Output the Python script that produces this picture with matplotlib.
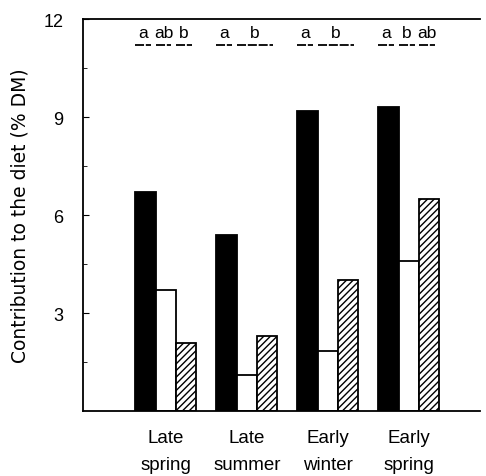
import matplotlib
matplotlib.use("Agg")
import matplotlib.pyplot as plt
import numpy as np

plt.rcParams['font.family'] = ['Liberation Sans', 'DejaVu Sans']
plt.rcParams['hatch.linewidth'] = 1.0

seasons = ["Late\nspring", "Late\nsummer", "Early\nwinter", "Early\nspring"]
black_vals = [6.7, 5.4, 9.2, 9.3]
white_vals = [3.7, 1.1, 1.85, 4.6]
hatch_vals = [2.1, 2.3, 4.0, 6.5]

# significance letters per group: (letter, first bar, last bar)
letters = [
    [("a", 0, 0), ("ab", 1, 1), ("b", 2, 2)],
    [("a", 0, 0), ("b", 1, 2)],
    [("a", 0, 0), ("b", 1, 2)],
    [("a", 0, 0), ("b", 1, 1), ("ab", 2, 2)],
]

fig = plt.figure(figsize=(4.86, 4.77), dpi=100)
ax = fig.add_axes([0.171, 0.136, 0.817, 0.822])

x = np.arange(len(seasons))
w = 0.25
lw = 1.3
ax.bar(x - w, black_vals, w, color='black', edgecolor='black', lw=lw)
ax.bar(x, white_vals, w, color='white', edgecolor='black', lw=lw)
ax.bar(x + w, hatch_vals, w, color='white', edgecolor='black', lw=lw, hatch='/////')

for i, grp in enumerate(letters):
    for lab, b0, b1 in grp:
        x0 = i + (b0 - 1) * w - 0.5 * w
        x1 = i + (b1 - 1) * w + 0.28 * w
        ax.text((x0 + x1) / 2, 11.6, lab, ha='center', va='center', fontsize=12.5)
        ax.plot([x0, x1], [11.2, 11.2], color='black', lw=1.3,
                ls=(0, (5, 1)), solid_capstyle='butt')

ax.set_xlim(-1.02, 3.88)
ax.set_ylim(0, 12)
ax.set_yticks([3, 6, 9, 12])
ax.set_yticks([1.5, 4.5, 7.5, 10.5], minor=True)
ax.tick_params(axis='y', which='major', direction='in', length=4, labelsize=13, pad=14)
ax.tick_params(axis='y', which='minor', direction='in', length=3)
ax.set_xticks(x)
ax.set_xticklabels(seasons, fontsize=13.5, linespacing=1.75)
ax.tick_params(axis='x', length=0, pad=13)
ax.spines['right'].set_visible(False)
for s in ['left', 'top', 'bottom']:
    ax.spines[s].set_linewidth(1.3)
ax.set_ylabel("Contribution to the diet (% DM)", fontsize=13.5, family='DejaVu Sans',
              labelpad=10)

fig.savefig("out.png", dpi=100)
